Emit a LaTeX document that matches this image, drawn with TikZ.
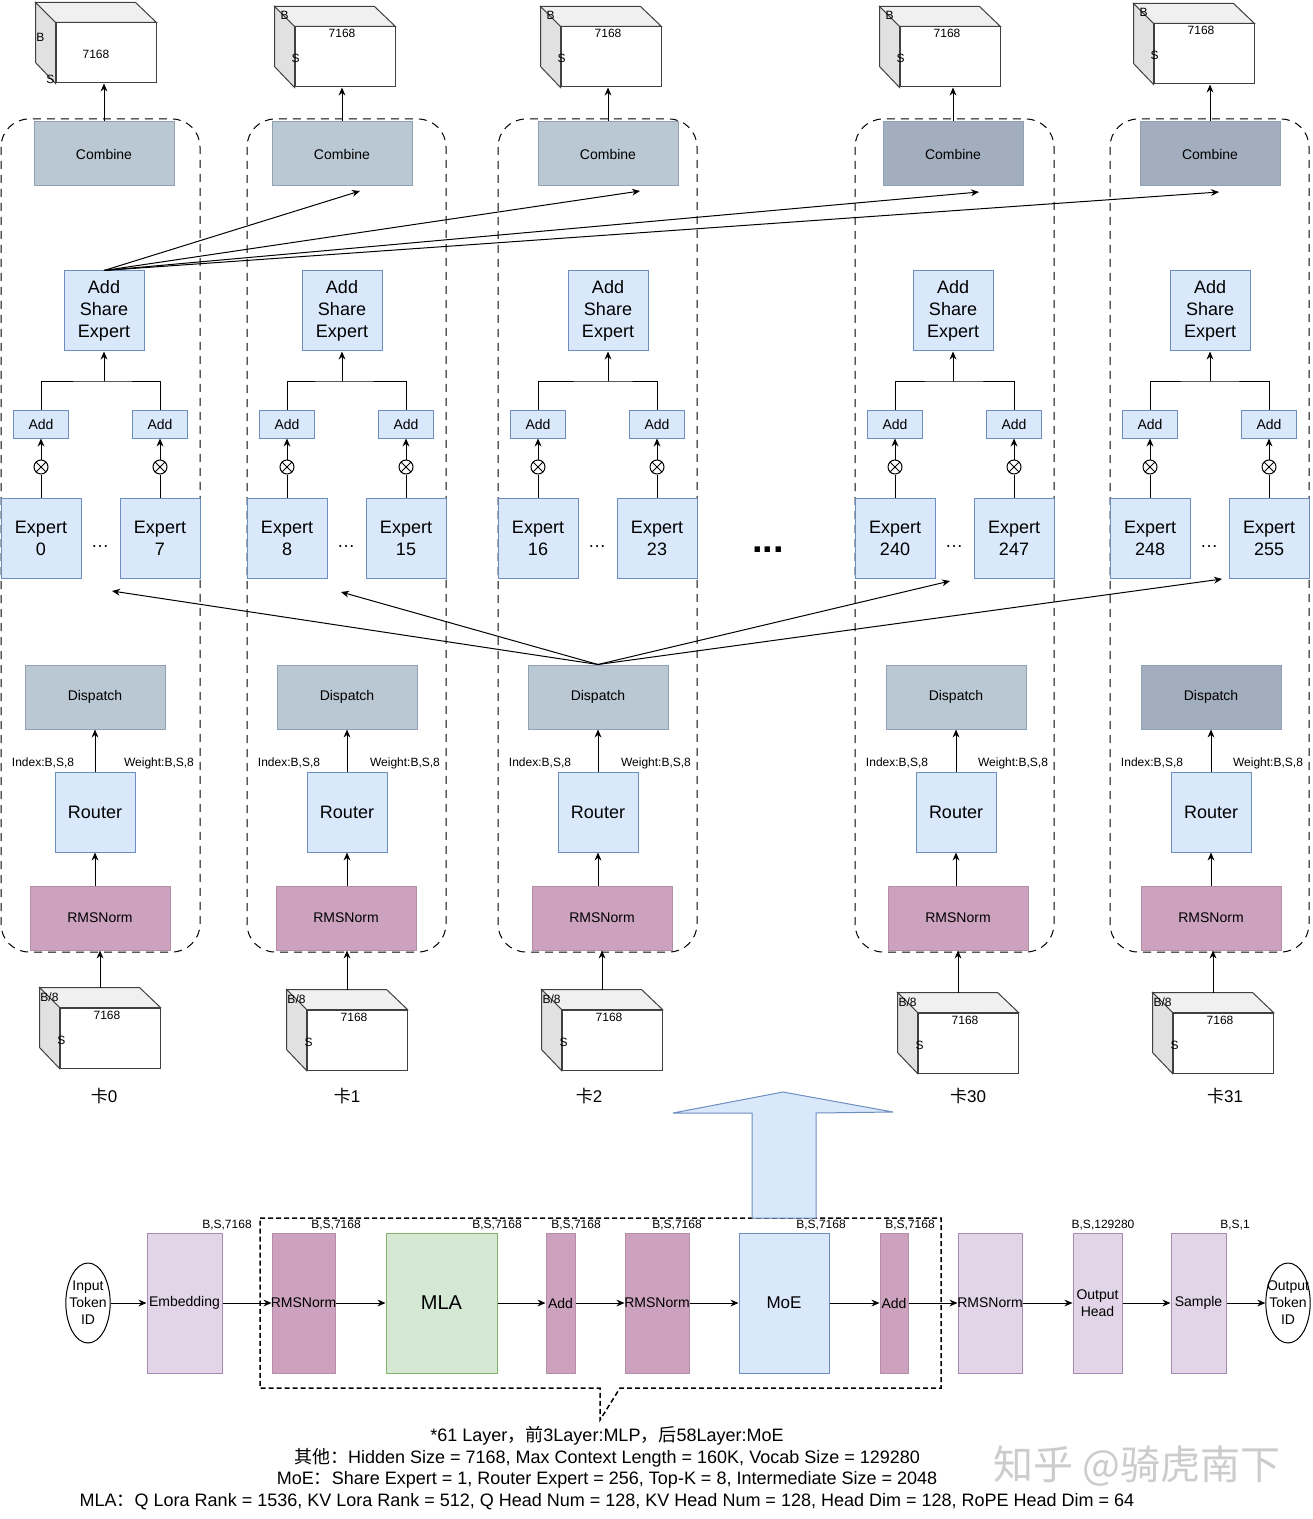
\documentclass[tikz,border=0pt]{standalone}
\usepackage{fontspec}
\setmainfont{Liberation Sans}
\newfontfamily\cjk{Noto Sans CJK SC}
\usetikzlibrary{arrows.meta,shapes.geometric}

\definecolor{comb}{HTML}{BAC8D3}
\definecolor{combdark}{HTML}{A2AEBE}
\definecolor{combline}{HTML}{8FA1B3}
\definecolor{bluefill}{HTML}{DAE8FC}
\definecolor{blueline}{HTML}{6C8EBF}
\definecolor{rmsfill}{HTML}{CDA2BE}
\definecolor{rmsline}{HTML}{B48DA7}
\definecolor{lilac}{HTML}{E1D5E7}
\definecolor{lilacline}{HTML}{A88BB5}
\definecolor{mlafill}{HTML}{D5E8D4}
\definecolor{mlaline}{HTML}{82B366}
\definecolor{cubetop}{HTML}{F0F0F0}
\definecolor{cubeside}{HTML}{E1E1E1}

\tikzset{
  arr/.style={-{Stealth[length=4pt,width=3.4pt]}},
  box/.style={draw, inner sep=0pt, align=center},
  grayblock/.style={box, draw=combline, minimum width=70pt, minimum height=32pt, font=\fontsize{7}{8.4}\selectfont},
  bluebox/.style={box, fill=bluefill, draw=blueline},
  sharebox/.style={bluebox, minimum width=40pt, minimum height=40pt, font=\fontsize{9}{11}\selectfont},
  addbox/.style={bluebox, minimum width=27.5pt, minimum height=14pt, font=\fontsize{7}{8.4}\selectfont},
  rmsbox/.style={box, fill=rmsfill, draw=rmsline, minimum width=70pt, minimum height=32pt, font=\fontsize{7}{8.4}\selectfont},
  otimes/.style={circle, draw, minimum size=7pt, inner sep=0pt,
    path picture={\draw (path picture bounding box.south west) -- (path picture bounding box.north east)
      (path picture bounding box.north west) -- (path picture bounding box.south east);}},
  lane/.style={draw, dash pattern=on 4pt off 3pt, rounded corners=14pt},
  cubefront/.style={draw=black!75, fill=white, minimum width=50pt, minimum height=30pt, inner sep=0pt},
  cubeface/.style={draw=black!75},
  cubelbl/.style={inner sep=0pt, font=\fontsize{6}{7}\selectfont},
  dimlbl/.style={inner sep=0pt, font=\fontsize{6}{7}\selectfont},
  cardlbl/.style={inner sep=0pt, font=\fontsize{8.5}{10}\selectfont},
  flowbox/.style={box, minimum height=70pt, font=\fontsize{7}{8.4}\selectfont},
  tokenell/.style={ellipse, draw, minimum width=22pt, minimum height=40pt, inner xsep=-1.5pt, inner ysep=0pt,
    align=center, font=\fontsize{7}{8.5}\selectfont},
  callout/.style={draw, line width=0.75pt, dash pattern=on 2.5pt off 1.5pt},
  notes/.style={inner sep=0pt, align=center, font=\fontsize{9}{10.75}\selectfont},
  watermk/.style={inner sep=0pt, text=black!20, font=\fontsize{20}{20}\selectfont}
}

\begin{document}
\begin{tikzpicture}[x=0.5pt, y=-0.5pt, line width=0.5pt]
  \useasboundingbox (0,0) rectangle (1312,1519);
  \fill[white] (0,0) rectangle (1312,1519);

  % one lane per card
  \foreach \c/\L/\cx/\dx/\rx/\tx/\ty/\bx/\by/\kx/\ea/\eb/\cc/\dc in {
      0/0/104/95/100/106/23/110/1008/104/0/7/comb/comb,
      1/246/342/347/346/345/27/357/1010/347/8/15/comb/comb,
      2/497/608/598/602/611/27/612/1010/589/16/23/comb/comb,
      30/854/953/956/958/950/27/968/1013/968/240/247/combdark/comb,
      31/1109/1210/1211/1211/1204/24/1223/1013/1225/248/255/combdark/combdark}{
    \draw[lane] (\L+1,119) rectangle (\L+200,952);

    % output tensor
    \node[cubefront] (tf\c) at (\tx,\ty+30) {};
    \filldraw[cubeface, fill=cubetop] (tf\c.north west) -- ++(-20,-20) -- ++(100,0) -- (tf\c.north east) -- cycle;
    \filldraw[cubeface, fill=cubeside] (tf\c.north west) -- ++(-20,-20) -- ++(0,60) -- (tf\c.south west) -- cycle;
    \ifnum\c=0\relax
      \node[cubelbl] at ([shift={(-15,15)}]tf\c.north west) {B};
      \node[cubelbl] at ([shift={(-5,57)}]tf\c.north west) {S};
      \node[cubelbl] at ([shift={(-10,1)}]tf\c.center) {7168};
    \else
      \node[cubelbl] at ([shift={(-10,-11)}]tf\c.north west) {B};
      \node[cubelbl] at ([shift={(1,32)}]tf\c.north west) {S};
      \node[cubelbl] at ([shift={(-3,7)}]tf\c.north) {7168};
    \fi

    % combine and shared expert
    \node[grayblock, fill=\cc] (comb\c) at (\cx,154) {Combine};
    \draw[arr] (comb\c.north) -- (comb\c.north |- tf\c.south);
    \node[sharebox] (ase\c) at (\cx,311) {Add\\Share\\Expert};
    \node[addbox] (adda\c) at (\L+41,424) {Add};
    \node[addbox] (addb\c) at (\L+160,424) {Add};
    \coordinate (join\c) at (\cx,381);
    \draw (adda\c.north) |- (join\c) -| (addb\c.north);
    \draw[arr] (join\c) -- (ase\c.south);

    % routed experts
    \node[sharebox] (expa\c) at (\L+41,538) {Expert\\\ea};
    \node[sharebox] (expb\c) at (\L+160,538) {Expert\\\eb};
    \node[otimes] (mula\c) at (\L+41,467) {};
    \node[otimes] (mulb\c) at (\L+160,467) {};
    \draw (expa\c.north) -- (mula\c.south);
    \draw (expb\c.north) -- (mulb\c.south);
    \draw[arr] (mula\c.north) -- (adda\c.south);
    \draw[arr] (mulb\c.north) -- (addb\c.south);
    \node[inner sep=0pt, font=\fontsize{9}{9}\selectfont] (dots\c) at (\L+100,547) {\dots};

    % dispatch, router, norm
    \node[grayblock, fill=\dc] (disp\c) at (\dx,697) {Dispatch};
    \node[sharebox] (rout\c) at (\dx,812) {Router};
    \node[rmsbox] (rms\c) at (\rx,918) {RMSNorm};
    \node[dimlbl] (idx\c) at (\L+43,763) {Index:B,S,8};
    \node[dimlbl] (wgt\c) at (\L+159,763) {Weight:B,S,8};
    \draw[arr] (rout\c.north) -- (disp\c.south);
    \draw[arr] (rms\c.north -| rout\c.south) -- (rout\c.south);

    % input tensor
    \node[cubefront] (bf\c) at (\bx,\by+30) {};
    \filldraw[cubeface, fill=cubetop] (bf\c.north west) -- ++(-20,-20) -- ++(100,0) -- (bf\c.north east) -- cycle;
    \filldraw[cubeface, fill=cubeside] (bf\c.north west) -- ++(-20,-20) -- ++(0,60) -- (bf\c.south west) -- cycle;
    \node[cubelbl] at ([shift={(-10,-10)}]bf\c.north west) {B/8};
    \node[cubelbl] at ([shift={(2,33)}]bf\c.north west) {S};
    \node[cubelbl] at ([shift={(-3,8)}]bf\c.north) {7168};
    \path (bf\c.north) ++(-10,-20) coordinate (bt\c);
    \draw[arr] (bt\c) -- (bt\c |- rms\c.south);
    \node[cardlbl] (card\c) at (\kx,1096) {{\cjk 卡}\c};
  }

  \node[inner sep=0pt, font=\fontsize{19}{19}\bfseries] (gap) at (768,550) {...};

  % shared expert to every combine
  \coordinate (cin1) at (360,191);
  \coordinate (cin2) at (640,191);
  \coordinate (cin30) at (979,192);
  \coordinate (cin31) at (1219,192);
  \foreach \t in {cin1,cin2,cin30,cin31}
    \draw[arr] (ase0.north) -- (\t);

  % dispatch to every card
  \coordinate (din0) at (112,591);
  \coordinate (din1) at (341,592);
  \coordinate (din30) at (950,581);
  \coordinate (din31) at (1222,579);
  \foreach \t in {din0,din1,din30,din31}
    \draw[arr] (disp2.north) -- (\t);

  % decoder layer frame
  \draw[callout] (260,1218) -- (941,1218) -- (941,1388) -- (620,1388) -- (600,1420) -- (600,1388) -- (260,1388) -- cycle;
  \filldraw[fill=bluefill, draw=blueline] (752,1218) -- (752,1113) -- (673,1113) -- (783,1092) -- (893,1112) -- (816,1113) -- (816,1218) -- cycle;

  % model flow
  \node[tokenell] (tokin) at (88,1303) {Input\\Token\\ID};
  \node[flowbox, fill=lilac, draw=lilacline, minimum width=37.5pt] (emb) at (184.5,1303) {Embedding};
  \node[flowbox, fill=rmsfill, draw=rmsline, minimum width=31.5pt] (frms1) at (303.5,1303) {\makebox[0pt]{RMSNorm}};
  \node[flowbox, fill=mlafill, draw=mlaline, minimum width=55.5pt, font=\fontsize{10}{12}\selectfont] (mla) at (441.5,1303) {MLA};
  \node[flowbox, fill=rmsfill, draw=rmsline, minimum width=14.5pt] (fadd1) at (560.5,1303) {\makebox[0pt]{Add}};
  \node[flowbox, fill=rmsfill, draw=rmsline, minimum width=32pt] (frms2) at (657,1303) {\makebox[0pt]{RMSNorm}};
  \node[flowbox, fill=bluefill, draw=blueline, minimum width=45pt, font=\fontsize{8.5}{10}\selectfont] (moe) at (784,1303) {MoE};
  \node[flowbox, fill=rmsfill, draw=rmsline, minimum width=14pt] (fadd2) at (894,1303) {\makebox[0pt]{Add}};
  \node[flowbox, fill=lilac, draw=lilacline, minimum width=32pt] (frms3) at (990,1303) {\makebox[0pt]{RMSNorm}};
  \node[flowbox, fill=lilac, draw=lilacline, minimum width=24.5pt] (head) at (1097.5,1303) {Output\\Head};
  \node[flowbox, fill=lilac, draw=lilacline, minimum width=27.5pt] (smp) at (1198.5,1303) {Sample};
  \node[tokenell] (tokout) at (1288,1303) {\makebox[0pt]{Output}\\Token\\ID};
  \foreach \a/\b in {tokin/emb, emb/frms1, frms1/mla, mla/fadd1, fadd1/frms2, frms2/moe,
      moe/fadd2, fadd2/frms3, frms3/head, head/smp, smp/tokout}
    \draw[arr] (\a.east) -- (\b.west);

  % tensor shapes
  \foreach \x/\t [count=\n] in {227/{B,S,7168}, 336/{B,S,7168}, 497/{B,S,7168}, 576/{B,S,7168},
      677/{B,S,7168}, 821/{B,S,7168}, 910/{B,S,7168}, 1103/{B,S,129280}, 1235/{B,S,1}}
    \node[dimlbl] (dim\n) at (\x,1225) {\t};

  % notes
  \node[notes] (info) at (607,1468) {*61 Layer{\cjk ，前}3Layer:MLP{\cjk ，后}58Layer:MoE\\
    {\cjk 其他：}Hidden Size = 7168, Max Context Length = 160K, Vocab Size = 129280\\
    MoE{\cjk ：}Share Expert = 1, Router Expert = 256, Top-K = 8, Intermediate Size = 2048\\
    MLA{\cjk ：}Q Lora Rank = 1536, KV Lora Rank = 512, Q Head Num = 128, KV Head Num = 128, Head Dim = 128, RoPE Head Dim = 64};
  \node[watermk] (wm) at (1137,1466) {\cjk 知乎 @骑虎南下};
\end{tikzpicture}
\end{document}
